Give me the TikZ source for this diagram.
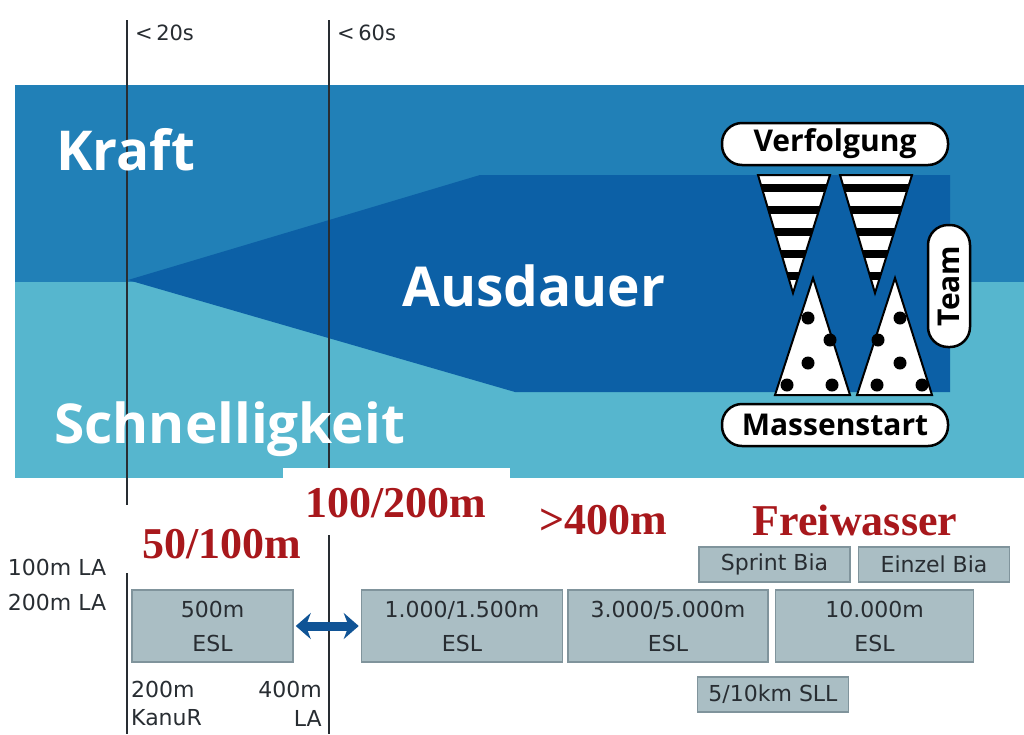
\documentclass[tikz,border=0pt]{standalone}
\usepackage{fontspec}
\setmainfont{DejaVu Sans}
\newfontfamily\headfont{Open Sans}
\newfontfamily\redfont{Liberation Serif}
\usetikzlibrary{positioning,arrows.meta}

\definecolor{kraftblue}{RGB}{33,128,183}
\definecolor{speedblue}{RGB}{86,182,206}
\definecolor{enduranceblue}{RGB}{12,96,166}
\definecolor{boxgray}{RGB}{170,190,196}
\definecolor{boxedge}{RGB}{128,148,156}
\definecolor{labelred}{RGB}{168,24,28}
\definecolor{arrowblue}{RGB}{16,84,150}
\definecolor{inkgray}{RGB}{40,45,50}

\tikzstyle{distbox} = [rectangle, fill=boxgray, draw=boxedge, line width=1.5pt, text=inkgray,
font=\fontsize{22}{34}\selectfont, align=center, minimum height=72pt, inner sep=0pt]
\tikzstyle{biabox} = [distbox, minimum width=151pt, minimum height=35pt]
\tikzstyle{pill} = [rectangle, rounded corners=20pt, draw=black, line width=2.5pt, fill=white,
font=\headfont\bfseries\fontsize{30}{32}\selectfont, minimum width=226pt, minimum height=42pt, inner sep=0pt]
\tikzstyle{bigword} = [text=white, font=\headfont\bfseries\fontsize{55}{58}\selectfont, inner sep=0pt]
\tikzstyle{redword} = [text=labelred, font=\redfont\bfseries\fontsize{44}{46}\selectfont, inner sep=0pt]
\tikzstyle{sidelabel} = [text=inkgray, font=\fontsize{22}{24}\selectfont, inner sep=0pt]
\tikzstyle{timelabel} = [text=inkgray, font=\fontsize{21}{22}\selectfont, inner sep=0pt, anchor=west]
\tikzstyle{timeline} = [line width=2.5pt, draw=inkgray]
\tikzstyle{dblarrow} = [<->, >={Stealth[length=15pt,width=26pt]}, line width=9pt, draw=arrowblue, shorten <=2pt, shorten >=2pt]

\begin{document}
\begin{tikzpicture}[x=1pt, y=-1pt, node distance=6pt]
				\useasboundingbox (0,0) rectangle (1024,734);
				\fill[white] (0,0) rectangle (1024,734);
				
				% Bands
				\fill[kraftblue] (15,85) rectangle (1024,282);
				\fill[speedblue] (15,282) rectangle (1024,478);
				\fill[enduranceblue] (128,280) -- (480,175) -- (950,175) -- (950,392) -- (515,392) -- cycle;
				
				% Time lines
				\coordinate (t20) at (127,20);
				\coordinate (t60) at (329,20);
				\draw[timeline] (t20) -- (127,734);
				\draw[timeline] (t60) -- (329,734);
				\node (lt20) [timelabel] at (135,33) {<\,20s};
				\node (lt60) [timelabel] at (337,33) {<\,60s};
				
				% Place words
				\node (kraft) [bigword, anchor=base west] at (56,170) {Kraft};
				\node (ausdauer) [bigword, anchor=base west] at (402,306) {Ausdauer};
				\node (schnell) [bigword, anchor=base west] at (54,443) {Schnelligkeit};
				
				% Striped and dotted triangles
				\foreach \dx in {0,82} {
					\begin{scope}
						\clip (758+\dx,175) -- (830+\dx,175) -- (793+\dx,293) -- cycle;
						\fill[white] (750+\dx,170) rectangle (840+\dx,300);
						\foreach \y in {184,206,...,292}
							\fill[black] (750+\dx,\y) rectangle (840+\dx,\y+8);
					\end{scope}
					\draw[line width=2pt] (758+\dx,175) -- (830+\dx,175) -- (793+\dx,293) -- cycle;
					\draw[line width=2pt, fill=white] (775+\dx,395) -- (850+\dx,395) -- (813+\dx,278) -- cycle;
				}
				\foreach \p in {(808,318),(830,340),(808,363),(787,385),(832,385),
					(900,318),(878,340),(900,363),(877,385),(922,385)}
					\fill[black] \p circle (6.5);
				
				\node (verfolgung) [pill] at (835,144) {Verfolgung};
				\node (massenstart) [pill] at (835,425) {Massenstart};
				\node (team) [pill, rotate=90, minimum width=122pt] at (949,286) {Team};
				
				% Distance labels
				\fill[white] (283,468) rectangle (510,535);
				\fill[white] (118,505) rectangle (310,573);
				\node (r50) [redword, anchor=base] at (222,558) {50/100m};
				\node (r100) [redword, anchor=base] at (396,517) {100/200m};
				\node (r400) [redword, anchor=base] at (603,534) {>400m};
				\node (rfrei) [redword, anchor=base] at (855,535) {Freiwasser};
				
				\node (la100) [sidelabel] at (57,567) {100m LA};
				\node (la200) [sidelabel] at (57,602) {200m LA};
				\node (kanu200) [sidelabel, anchor=west] at (131,689) {200m};
				\node (kanur) [sidelabel, anchor=west] at (131,718) {KanuR};
				\node (la400) [sidelabel, anchor=east] at (322,689) {400m};
				\node (la) [sidelabel, anchor=east] at (322,718) {LA};
				
				% Place boxes
				\node (esl500) [distbox, minimum width=161pt] at (212.5,626) {500m\\ESL};
				\node (esl1000) [distbox, minimum width=201pt, right=67pt of esl500] {1.000/1.500m\\ESL};
				\node (esl3000) [distbox, minimum width=200pt, right=4pt of esl1000] {3.000/5.000m\\ESL};
				\node (esl10000) [distbox, minimum width=198pt, right=6pt of esl3000] {10.000m\\ESL};
				\node (sprintbia) [biabox] at (774.5,564.5) {Sprint Bia};
				\node (einzelbia) [biabox, right=7pt of sprintbia] {Einzel Bia};
				\node (sll) [biabox] at (773,694.5) {5/10km SLL};
				
				\draw[dblarrow] (esl500) -- (esl1000);
				
			\end{tikzpicture}
\end{document}
